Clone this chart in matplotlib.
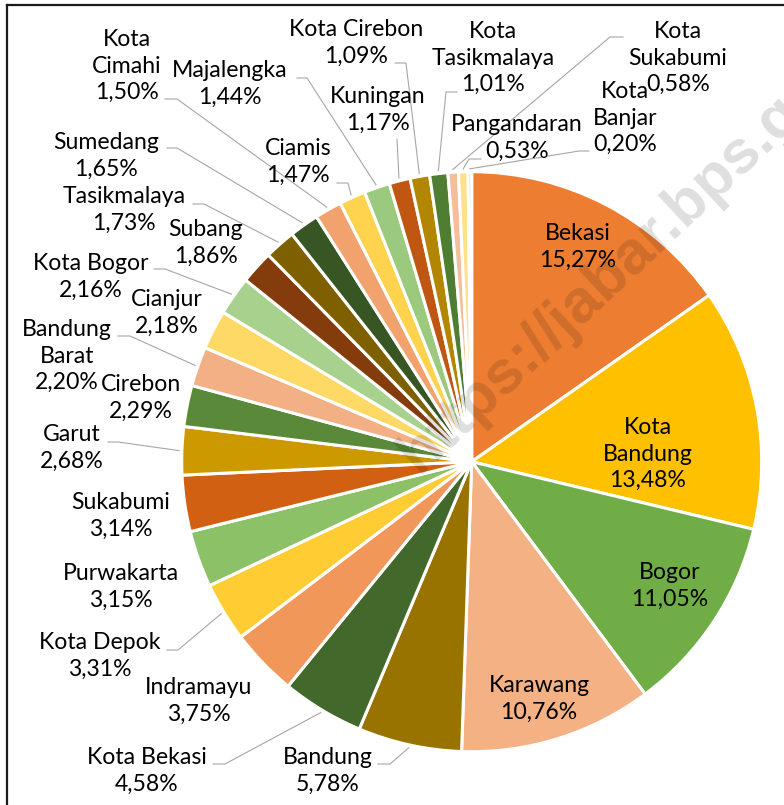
import numpy as np
import matplotlib
matplotlib.use("Agg")
import matplotlib.pyplot as plt

# ---------------- data ----------------
regions = ["Bekasi", "Kota Bandung", "Bogor", "Karawang", "Bandung", "Kota Bekasi",
           "Indramayu", "Kota Depok", "Purwakarta", "Sukabumi", "Garut", "Cirebon",
           "Bandung Barat", "Cianjur", "Kota Bogor", "Subang", "Tasikmalaya", "Sumedang",
           "Kota Cimahi", "Ciamis", "Majalengka", "Kuningan", "Kota Cirebon",
           "Kota Tasikmalaya", "Kota Sukabumi", "Pangandaran", "Kota Banjar"]
shares = [15.27, 13.48, 11.05, 10.76, 5.78, 4.58, 3.75, 3.31, 3.15, 3.14, 2.68, 2.29,
          2.20, 2.18, 2.16, 1.86, 1.73, 1.65, 1.50, 1.47, 1.44, 1.17, 1.09, 1.01,
          0.58, 0.53, 0.20]
wrapped = {"Kota Bandung", "Kota Cimahi", "Bandung Barat", "Kota Tasikmalaya",
           "Kota Sukabumi", "Kota Banjar"}
colors = ["#ED7D31", "#FFC000", "#70AD47", "#F4B183", "#997300", "#43682B",
          "#F1975A", "#FFCD33", "#8CC168", "#D26012", "#CC9A00", "#5A8A39",
          "#F3B084", "#FFD966", "#A9D18E", "#843C0C", "#7F6000", "#375623",
          "#F1A26D", "#FFD34D", "#9BC97E", "#BF5712", "#B38600", "#4F7D32",
          "#F5BE9A", "#FFE08C", "#BDDBA9"]

# ---------------- layout (pixels, y downward) ----------------
W, H = 784, 805
CX, CY, R = 471.7, 461.7, 290.0

label_pos = {
    "Bekasi": (578, 247), "Kota Bandung": (648, 454), "Bogor": (670, 586),
    "Karawang": (539, 699), "Bandung": (328, 771), "Kota Bekasi": (147, 771),
    "Indramayu": (199, 701), "Kota Depok": (100, 656), "Purwakarta": (121, 587),
    "Sukabumi": (121, 516), "Garut": (72, 448), "Cirebon": (141, 398),
    "Bandung Barat": (67, 356), "Cianjur": (167, 313), "Kota Bogor": (91, 277),
    "Subang": (206, 243), "Tasikmalaya": (124, 210), "Sumedang": (106, 156),
    "Kota Cimahi": (127, 66), "Majalengka": (230, 84), "Ciamis": (298, 162),
    "Kota Cirebon": (356, 43), "Kuningan": (378, 110), "Kota Tasikmalaya": (493, 58),
    "Pangandaran": (517, 138), "Kota Sukabumi": (678, 58), "Kota Banjar": (625, 118),
}
# leader lines: (elbow, end)
leaders = {
    "Bandung": ((390, 764), (378, 764)),
    "Kota Bekasi": ((225, 764), (213, 764)),
    "Kota Depok": ((178, 650), (167, 650)),
    "Garut": ((118, 442), (108, 442)),
    "Bandung Barat": ((130, 336), (118, 336)),
    "Kota Bogor": ((165, 269), (154, 269)),
    "Tasikmalaya": ((204, 204), (193, 204)),
    "Sumedang": ((177, 148), (167, 148)),
    "Kota Cimahi": ((177, 99), (165, 99)),
    "Majalengka": ((307, 78), (297, 78)),
    "Ciamis": ((348, 183), (337, 183)),
    "Kota Cirebon": ((406, 63), (395, 63)),
    "Kuningan": ((397, 139), (397, 139)),
    "Kota Tasikmalaya": ((446, 92), (457, 92)),
    "Pangandaran": ((469, 159), (481, 159)),
    "Kota Banjar": ((579, 151), (589, 151)),
    "Kota Sukabumi": ((610, 37), (623, 37)),
}


def Y(y):
    return H - y


fig = plt.figure(figsize=(W / 100, H / 100), dpi=100)
ax = fig.add_axes([0, 0, 1, 1])

wedges, _ = ax.pie(shares, colors=colors, startangle=90, counterclock=False,
                   center=(CX, Y(CY)), radius=R,
                   wedgeprops=dict(edgecolor="white", linewidth=2.2))
ax.set_xlim(0, W)
ax.set_ylim(0, H)
ax.set_aspect("equal")
ax.axis("off")

# watermark
ax.text(419, Y(474), "https://jabar.bps.go.id", rotation=43, rotation_mode="anchor",
        ha="left", va="baseline", fontsize=44, fontweight="bold",
        family="Liberation Sans", color="black", alpha=0.13, zorder=3)

font = dict(family="Lato", fontsize=16.6, color="#000000", ha="center", va="center",
            linespacing=1.3, zorder=5)

for name, val, w in zip(regions, shares, wedges):
    disp = name.replace(" ", "\n", 1) if name in wrapped else name
    txt = f"{disp}\n{val:.2f}%".replace(".", ",")
    x, y = label_pos[name]
    ax.text(x, Y(y), txt, **font)
    if name in leaders:
        mid = np.deg2rad((w.theta1 + w.theta2) / 2)
        sx = CX + R * 1.01 * np.cos(mid)
        sy = CY - R * 1.01 * np.sin(mid)
        (ex, ey), (fx, fy) = leaders[name]
        ax.plot([sx, ex, fx], [Y(sy), Y(ey), Y(fy)], color="#A6A6A6", lw=0.8,
                zorder=4, solid_joinstyle="miter")

# chart border (clipped at right and bottom like the reference)
ax.plot([7, 7], [Y(5), -20], color="#1a1a1a", lw=1.6, zorder=6, clip_on=False)
ax.plot([7, W + 20], [Y(5), Y(5)], color="#1a1a1a", lw=1.6, zorder=6, clip_on=False)

fig.savefig("out.png", dpi=100)
